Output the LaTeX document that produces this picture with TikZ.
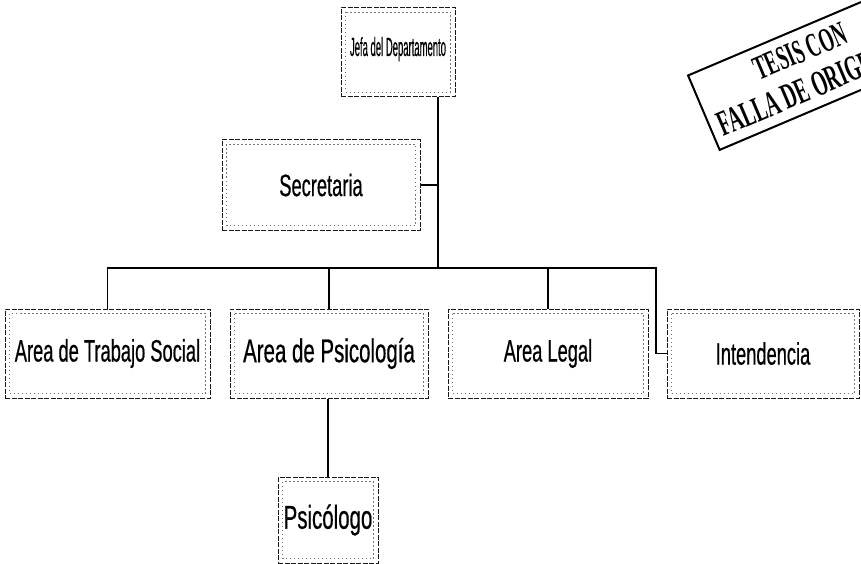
\documentclass[tikz,border=0pt]{standalone}
\usepackage{graphicx}
\usepackage{fontspec}
\newfontfamily\boxfont[FakeStretch=0.59,FakeBold=0.5]{Liberation Sans}
\newfontfamily\psifont[FakeStretch=0.62,FakeBold=0.5]{Liberation Sans}
\newfontfamily\stampfont[FakeStretch=0.54]{Liberation Serif}
\begin{document}
\begin{tikzpicture}[x=1pt,y=-1pt,
  orgbox/.style={draw=black!90, dash pattern=on 5pt off 1.5pt, line width=1pt,
    inner sep=0pt, font=\boxfont\fontsize{31}{33}\selectfont},
  psibox/.style={orgbox, font=\psifont\fontsize{33}{35}\selectfont},
  innerframe/.style={draw=black!55, dash pattern=on 1.5pt off 2.5pt, line width=0.6pt},
  conn/.style={draw=black, line width=1.3pt},
  stamp/.style={draw=black, line width=2pt, align=left, inner xsep=9pt, inner ysep=10pt,
    font=\stampfont\bfseries\fontsize{36}{36}\selectfont}]
\useasboundingbox (0,0) rectangle (861,564);
\clip (0,0) rectangle (861,564);
\fill[white] (0,0) rectangle (861,564);

\node[orgbox, minimum width=114pt, minimum height=89pt] (jefa) at (398,52) {\raisebox{-4pt}[0pt][0pt]{\resizebox{96pt}{19pt}{Jefa del Departamento}}};
\node[orgbox, minimum width=198pt, minimum height=90pt] (sec) at (321,185) {Secretaria};
\node[orgbox, minimum width=205pt, minimum height=89pt] (ts) at (107.5,353.5) {Area de Trabajo Social};
\node[psibox, minimum width=198pt, minimum height=89pt] (psi) at (329,353.5) {Area de Psicología};
\node[orgbox, minimum width=200pt, minimum height=89pt] (leg) at (548,353.5) {Area Legal};
\node[orgbox, minimum width=192pt, minimum height=89pt] (int) at (763,353.5) {Intendencia};
\node[psibox, minimum width=100pt, minimum height=86pt] (psc) at (328,520) {Psicólogo};

\foreach \n in {jefa,sec,ts,psi,leg,int,psc}
  \draw[innerframe] ([shift={(5,5)}]\n.north west) rectangle ([shift={(-5,-5)}]\n.south east);

\coordinate (tr) at (438,268);
\coordinate (ie) at (656,268);
\draw[conn] (jefa.south -| tr) -- (tr);
\draw[conn] (sec.east) -- (sec.east -| tr);
\draw[conn] (ts.north) |- (ie) |- (int.west);
\draw[conn] (psi.north) -- (psi.north |- tr);
\draw[conn] (leg.north) -- (leg.north |- tr);
\draw[conn] (psi.south -| psc.north) -- (psc.north);

\node[stamp, rotate=23] (st) at (795,74) {\hspace*{55pt}{\fontsize{34}{34}\selectfont TESIS CON}\\[2pt]FALLA DE ORIGEN};
\end{tikzpicture}
\end{document}
